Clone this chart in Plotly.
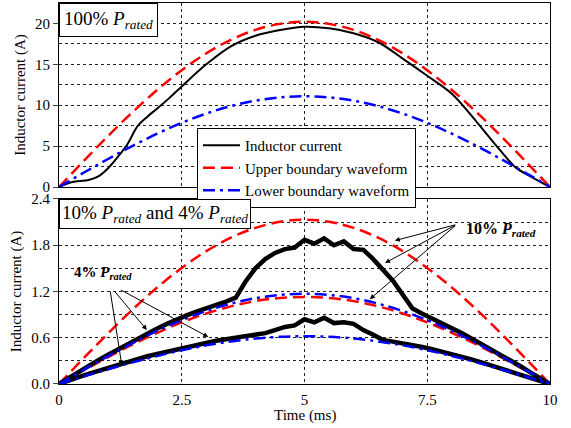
import plotly.graph_objects as go

# ---------------- data ----------------
t_bound = [0, 0.5, 1.0, 1.5, 2.0, 2.5, 3.0, 3.5, 4.0, 4.5, 5.0,
           5.5, 6.0, 6.5, 7.0, 7.5, 8.0, 8.5, 9.0, 9.5, 10.0]

# 100% P_rated
upper_100 = [0, 3.16, 6.24, 9.17, 11.87, 14.28, 16.34, 18.0, 19.21, 19.95, 20.2,
             19.95, 19.21, 18.0, 16.34, 14.28, 11.87, 9.17, 6.24, 3.16, 0]
lower_100 = [0, 1.74, 3.43, 5.04, 6.52, 7.85, 8.98, 9.89, 10.56, 10.96, 11.1,
             10.96, 10.56, 9.89, 8.98, 7.85, 6.52, 5.04, 3.43, 1.74, 0]
t_top = [0, 0.2, 0.4, 0.6, 0.8, 1.0, 1.2, 1.4, 1.6, 1.8, 2.0, 2.25, 2.5, 3.0, 3.5,
         4.0, 4.5, 5.0, 5.5, 6.0, 6.5, 7.0, 7.5, 8.0, 8.5, 9.0, 9.3, 9.6, 10.0]
current_100 = [0, 0.5, 0.72, 0.85, 1.3, 2.3, 3.7, 5.3, 7.45, 8.6, 9.6, 10.9, 12.3, 15.0, 17.2,
               18.5, 19.2, 19.6, 19.4, 18.8, 17.7, 15.7, 13.6, 11.4, 8.0, 4.4, 2.4, 1.3, 0]

# 10% and 4% P_rated
upper_10 = [0, 0.333, 0.658, 0.967, 1.252, 1.506, 1.723, 1.898, 2.026, 2.104, 2.13,
            2.104, 2.026, 1.898, 1.723, 1.506, 1.252, 0.967, 0.658, 0.333, 0]
lower_10 = [0, 0.183, 0.362, 0.531, 0.688, 0.827, 0.947, 1.042, 1.113, 1.156, 1.17,
            1.156, 1.113, 1.042, 0.947, 0.827, 0.688, 0.531, 0.362, 0.183, 0]
upper_4 = [0, 0.177, 0.349, 0.513, 0.664, 0.799, 0.914, 1.007, 1.075, 1.116, 1.13,
           1.116, 1.075, 1.007, 0.914, 0.799, 0.664, 0.513, 0.349, 0.177, 0]
lower_4 = [0, 0.097, 0.192, 0.281, 0.364, 0.438, 0.502, 0.552, 0.590, 0.612, 0.62,
           0.612, 0.590, 0.552, 0.502, 0.438, 0.364, 0.281, 0.192, 0.097, 0]

t_meas = [0, 0.2, 0.4, 0.6, 0.8, 1.0, 1.2, 1.4, 1.6, 1.8, 2.0, 2.2, 2.4, 2.6, 2.8, 3.0,
          3.2, 3.4, 3.6, 3.8, 4.0, 4.2, 4.4, 4.6, 4.8, 5.0, 5.2, 5.4, 5.6, 5.8, 6.0,
          6.2, 6.4, 6.6, 6.8, 7.0, 7.2, 7.4, 7.6, 7.8, 8.0, 8.2, 8.4, 8.6, 8.8, 9.0,
          9.2, 9.4, 9.6, 9.8, 10.0]
current_10 = [0, 0.08, 0.16, 0.23, 0.31, 0.38, 0.45, 0.52, 0.59, 0.66, 0.72, 0.78, 0.84, 0.89, 0.94, 0.98,
              1.03, 1.07, 1.12, 1.33, 1.50, 1.62, 1.70, 1.75, 1.77, 1.87, 1.82, 1.89, 1.80, 1.85, 1.75,
              1.74, 1.62, 1.48, 1.34, 1.16, 0.98, 0.91, 0.85, 0.79, 0.72, 0.66, 0.59, 0.52, 0.45, 0.38,
              0.31, 0.23, 0.15, 0.08, 0]
current_4 = [0, 0.05, 0.09, 0.13, 0.17, 0.21, 0.25, 0.29, 0.32, 0.36, 0.39, 0.42, 0.45, 0.48, 0.51, 0.53,
             0.56, 0.58, 0.60, 0.62, 0.64, 0.66, 0.70, 0.74, 0.76, 0.84, 0.80, 0.86, 0.79, 0.80, 0.78,
             0.70, 0.64, 0.57, 0.55, 0.53, 0.50, 0.48, 0.45, 0.42, 0.39, 0.35, 0.32, 0.28, 0.24, 0.20,
             0.16, 0.12, 0.08, 0.04, 0]

FONT = "Liberation Serif, Times New Roman, DejaVu Serif, serif"
RED = "#ff0000"
BLUE = "#0000ff"
DASH = "12px,6px"
DASHDOT = "12px,5px,3px,5px"

fig = go.Figure()

# top panel
fig.add_trace(go.Scatter(x=t_top, y=current_100, name="Inductor current", mode="lines",
                         line=dict(color="black", width=2, shape="spline"), xaxis="x", yaxis="y"))
fig.add_trace(go.Scatter(x=t_bound, y=upper_100, name="Upper boundary waveform", mode="lines",
                         line=dict(color=RED, width=2.5, dash=DASH, shape="spline"), xaxis="x", yaxis="y"))
fig.add_trace(go.Scatter(x=t_bound, y=lower_100, name="Lower boundary waveform", mode="lines",
                         line=dict(color=BLUE, width=2.5, dash=DASHDOT, shape="spline"), xaxis="x", yaxis="y"))

# bottom panel
for yy in [upper_10, upper_4]:
    fig.add_trace(go.Scatter(x=t_bound, y=yy, mode="lines", showlegend=False,
                             line=dict(color=RED, width=2.5, dash=DASH, shape="spline"),
                             xaxis="x2", yaxis="y2"))
for yy in [current_10, current_4]:
    fig.add_trace(go.Scatter(x=t_meas, y=yy, mode="lines", showlegend=False,
                             line=dict(color="black", width=4.5), xaxis="x2", yaxis="y2"))
for yy in [lower_10, lower_4]:
    fig.add_trace(go.Scatter(x=t_bound, y=yy, mode="lines", showlegend=False,
                             line=dict(color=BLUE, width=2.5, dash=DASHDOT, shape="spline"),
                             xaxis="x2", yaxis="y2"))

axis_common = dict(showline=True, mirror=True, linecolor="black", linewidth=1,
                   showgrid=True, gridcolor="#222", griddash="dot", gridwidth=1,
                   zeroline=False, automargin=False,
                   tickfont=dict(family=FONT, size=15, color="black"))

fig.update_layout(
    template="none",
    width=571, height=428,
    margin=dict(l=59, r=21, t=3, b=44, autoexpand=False),
    paper_bgcolor="white", plot_bgcolor="white",
    font=dict(family=FONT, color="black", size=15),
    xaxis=dict(axis_common, range=[0, 10], dtick=2.5, showticklabels=False, ticks="",
               anchor="y", domain=[0, 1]),
    yaxis=dict(axis_common, range=[0, 22.5], dtick=5, tick0=0, ticks="outside", ticklen=5,
               domain=[0.517, 1], anchor="x",
               minor=dict(dtick=2.5, showgrid=True, gridcolor="#222", griddash="dot", ticks=""),
               title=dict(text="Inductor current (A)", font=dict(family=FONT, size=15), standoff=5)),
    xaxis2=dict(axis_common, range=[0, 10], dtick=2.5, ticks="outside", ticklen=2,
                tickcolor="rgba(0,0,0,0)", anchor="y2", domain=[0, 1]),
    yaxis2=dict(axis_common, range=[0, 2.4], dtick=0.6, tick0=0, tickformat=".1f",
                ticks="outside", ticklen=5, domain=[0, 0.4856], anchor="x2",
                minor=dict(dtick=0.3, showgrid=True, gridcolor="#222", griddash="dot", ticks=""),
                title=dict(text="Inductor current (A)", font=dict(family=FONT, size=15), standoff=5)),
    legend=dict(x=0.281, y=0.672, xanchor="left", yanchor="top", bgcolor="white",
                bordercolor="black", borderwidth=1, font=dict(family=FONT, size=15), itemwidth=37,
                tracegroupgap=0),
)

# x-axis title, placed close under the tick labels as in the reference
fig.add_annotation(text="Time (ms)", xref="x2 domain", yref="paper", x=0.5, y=-0.083,
                   yanchor="middle", showarrow=False, font=dict(family=FONT, size=15))

# panel labels
fig.add_annotation(text="100% <i>P</i><sub><i>rated</i></sub>", xref="x domain", yref="y domain",
                   x=0, y=1, xanchor="left", yanchor="top", showarrow=False,
                   font=dict(family=FONT, size=19), bgcolor="white", bordercolor="black", borderwidth=1,
                   borderpad=4)
fig.add_annotation(text="10% <i>P</i><sub><i>rated</i></sub> and 4% <i>P</i><sub><i>rated</i></sub>",
                   xref="x2 domain", yref="y2 domain", x=0, y=1, xanchor="left", yanchor="top",
                   showarrow=False, font=dict(family=FONT, size=19), bgcolor="white", bordercolor="black",
                   borderwidth=1, borderpad=2)

# callouts
fig.add_annotation(text="<b>4% <i>P</i><sub><i>rated</i></sub></b>", x=0.886, y=1.44,
                   xref="x2", yref="y2", showarrow=False, font=dict(family=FONT, size=15))
fig.add_annotation(text="<b>10% <i>P</i><sub><i>rated</i></sub></b>", x=9.0, y=2.01,
                   xref="x2", yref="y2", showarrow=False, font=dict(family=FONT, size=16))

arrows_4 = [((1.04, 1.22), (1.28, 0.24)), ((1.11, 1.22), (1.79, 0.70)), ((1.23, 1.23), (3.04, 0.61))]
arrows_10 = [((8.10, 2.07), (6.84, 1.86)), ((8.10, 2.07), (6.64, 1.57)), ((8.10, 2.07), (6.33, 1.10))]
for (tail, head) in arrows_4 + arrows_10:
    fig.add_annotation(text="", x=head[0], y=head[1], ax=tail[0], ay=tail[1],
                       xref="x2", yref="y2", axref="x2", ayref="y2", showarrow=True,
                       arrowhead=2, arrowsize=1, arrowwidth=1, arrowcolor="black")

fig.write_html("out.html", config={"displayModeBar": False},
               post_script="document.body.style.margin='0';")
